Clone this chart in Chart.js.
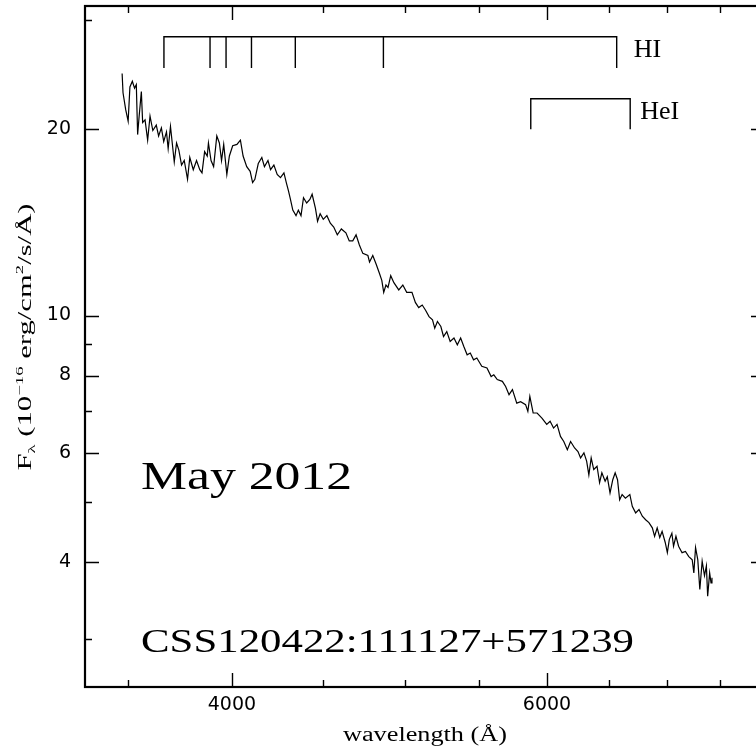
<!DOCTYPE html>
<html>
<head>
<meta charset="utf-8">
<script src="https://cdn.jsdelivr.net/npm/chart.js@4.4.1/dist/chart.umd.min.js"></script>
<style>
  html, body { margin: 0; padding: 0; background: #fff; overflow: hidden; }
  #wrap { position: absolute; left: 0; top: 0; width: 780px; height: 748px; }
</style>
</head>
<body>
<div id="wrap"><canvas id="spec" width="780" height="748"></canvas></div>
<script>
// Observed spectrum: wavelength (Angstrom) and flux (1e-16 erg/cm2/s/A)
const wavelength = [
  3473, 3477, 3489, 3500, 3508, 3519, 3529, 3537, 3543, 3550, 3560, 3566,
  3577, 3589, 3600, 3613, 3629, 3640, 3653, 3664, 3677, 3685, 3696, 3714,
  3725, 3736, 3749, 3762, 3778, 3789, 3806, 3822, 3838, 3849, 3862, 3875,
  3881, 3894, 3907, 3923, 3936, 3947, 3958, 3974, 3987, 4004, 4026, 4044,
  4058, 4077, 4095, 4108, 4120, 4138, 4157, 4171, 4190, 4204, 4222, 4240,
  4258, 4277, 4290, 4302, 4313, 4326, 4344, 4357, 4372, 4386, 4404, 4422,
  4435, 4454, 4466, 4481, 4499, 4520, 4540, 4560, 4581, 4605, 4632, 4652,
  4673, 4693, 4713, 4734, 4765, 4775, 4795, 4816, 4836, 4851, 4863, 4877,
  4890, 4907, 4927, 4958, 4984, 5009, 5043, 5065, 5087, 5110, 5132, 5155,
  5178, 5193, 5211, 5234, 5252, 5274, 5297, 5323, 5346, 5369, 5391, 5414,
  5436, 5459, 5482, 5517, 5554, 5584, 5603, 5628, 5665,
  5689, 5714, 5739, 5771, 5800, 5837, 5854, 5869, 5894, 5924, 5961, 5998,
  6024, 6051, 6078, 6105, 6131, 6159, 6185, 6217, 6244, 6265, 6292, 6314,
  6332, 6351, 6372, 6399, 6420, 6439, 6466, 6484, 6507, 6530, 6550, 6570,
  6588, 6609, 6637, 6675, 6696, 6725, 6754, 6783, 6812, 6841, 6871, 6891,
  6914, 6937, 6958, 6986, 7005, 7023, 7046, 7061, 7083, 7107, 7139, 7170,
  7201, 7233, 7248, 7264, 7285, 7304, 7326, 7348, 7366, 7378, 7397, 7410,
  7419
];
const flux = [
  24.6, 22.9, 21.5, 20.6, 23.4, 23.9, 23.3, 23.6, 19.6, 21.0, 23.0, 20.5,
  20.7, 19.2, 21.0, 19.9, 20.3, 19.5, 20.1, 19.1, 19.8, 18.6, 20.2, 17.7,
  19.0, 18.5, 17.5, 17.8, 16.6, 18.0, 17.2, 17.8, 17.2, 17.0, 18.4, 18.1,
  19.0, 17.8, 17.4, 19.5, 19.0, 17.8, 18.9, 16.9, 18.1, 18.8, 18.9, 19.2,
  18.1, 17.4, 17.1, 16.4, 16.6, 17.6, 18.0, 17.4, 17.8, 17.2, 17.5, 16.9,
  16.7, 17.0, 16.4, 15.9, 15.4, 14.8, 14.5, 14.8, 14.5, 15.5, 15.2, 15.4,
  15.7, 14.9, 14.2, 14.6, 14.3, 14.5, 14.1, 13.9, 13.5, 13.8, 13.6, 13.2,
  13.2, 13.5, 13.0, 12.6, 12.5, 12.2, 12.5, 12.1, 11.7, 11.4, 10.9, 11.2,
  11.1, 11.6, 11.3, 11.0, 11.2, 10.9, 10.9, 10.5, 10.3, 10.4, 10.2, 9.96,
  9.84, 9.54, 9.78, 9.60, 9.25, 9.42, 9.08, 9.20, 8.97, 9.20, 8.91, 8.64,
  8.70, 8.48, 8.54, 8.28, 8.23, 7.97, 8.02, 7.88, 7.83,
  7.68, 7.45, 7.59, 7.22, 7.26, 7.18, 7.00, 7.40, 6.96, 6.96, 6.83, 6.67,
  6.75, 6.58, 6.67, 6.38, 6.26, 6.07, 6.26, 6.11, 6.03, 5.89, 6.00, 5.82,
  5.53, 5.89, 5.64, 5.71, 5.37, 5.57, 5.40, 5.49, 5.17, 5.43, 5.57, 5.43,
  5.04, 5.14, 5.07, 5.14, 4.92, 4.80, 4.86, 4.74, 4.68, 4.63, 4.54, 4.40,
  4.54, 4.38, 4.48, 4.30, 4.14, 4.35, 4.45, 4.24, 4.40, 4.24, 4.14, 4.16,
  4.08, 4.03, 3.84, 4.22, 4.03, 3.61, 4.01, 3.80, 3.94, 3.52, 3.84, 3.70,
  3.77
];

// Line identifications (Angstrom) and the flux span of each marker bracket
const hiLines = [3665, 3889, 3970, 4102, 4340, 4861, 6563];
const hiSpan = [25.1, 28.2];
const heiLines = [5876, 6678];
const heiSpan = [20.0, 22.4];

// Axis limits and tick values
const xLimits = [3311, 7943];
const yLimits = [2.512, 31.62];
const xMajorTicks = [4000, 6000];
const xMinorTicks = [3500, 4500, 5000, 5500, 6500, 7000, 7500];
const yMajorTicks = [4, 6, 8, 10, 20];
const yMinorTicks = [3, 5, 7, 9, 30];

const SERIF = '"Liberation Serif", "Times New Roman", serif';
const SANS = '"DejaVu Sans", sans-serif';

function bracketPoints(lines, span) {
  const [lo, hi] = span;
  const first = lines[0], last = lines[lines.length - 1];
  const pts = [
    { x: first, y: lo }, { x: first, y: hi }, { x: last, y: hi }, { x: last, y: lo }, { x: last, y: null }
  ];
  lines.slice(1, -1).forEach(l => pts.push({ x: l, y: lo }, { x: l, y: hi }, { x: l, y: null }));
  return pts;
}

function drawStretched(ctx, text, x, y, font, width, align) {
  ctx.save();
  ctx.font = font;
  const w = ctx.measureText(text).width;
  const sx = width ? width / w : 1;
  ctx.translate(x, y);
  ctx.scale(sx, 1);
  ctx.textAlign = align || 'left';
  ctx.textBaseline = 'alphabetic';
  ctx.fillStyle = '#000';
  ctx.fillText(text, 0, 0);
  ctx.restore();
}

// Text made of runs with sub/superscripts, centred on (0,0) of the current transform
function drawRich(ctx, runs, size, length) {
  const small = Math.round(size * 0.62);
  const fontOf = r => `${r.s ? small : size}px ${SERIF}`;
  let total = 0;
  runs.forEach(r => { ctx.font = fontOf(r); r.w = ctx.measureText(r.t).width; total += r.w; });
  const sx = length / total;
  ctx.save();
  ctx.scale(sx, 1);
  let cx = -total / 2;
  const base = size * 0.33;
  ctx.fillStyle = '#000';
  ctx.textBaseline = 'alphabetic';
  ctx.textAlign = 'left';
  runs.forEach(r => {
    ctx.font = fontOf(r);
    const dy = r.s === 'sup' ? -size * 0.42 : r.s === 'sub' ? size * 0.22 : 0;
    ctx.fillText(r.t, cx, base + dy);
    cx += r.w;
  });
  ctx.restore();
}

const framePlugin = {
  id: 'frame',
  afterDatasetsDraw(chart) {
    const { ctx, chartArea: a, scales: { x, y } } = chart;
    ctx.save();
    ctx.strokeStyle = '#000';
    ctx.lineWidth = 1.4;
    ctx.beginPath();
    const xt = (vals, len) => vals.forEach(v => {
      const p = Math.round(x.getPixelForValue(v)) + 0.5;
      ctx.moveTo(p, a.bottom); ctx.lineTo(p, a.bottom - len);
      ctx.moveTo(p, a.top); ctx.lineTo(p, a.top + len);
    });
    const yt = (vals, len) => vals.forEach(v => {
      const p = Math.round(y.getPixelForValue(v)) + 0.5;
      ctx.moveTo(a.left, p); ctx.lineTo(a.left + len, p);
      ctx.moveTo(a.right, p); ctx.lineTo(a.right - len, p);
    });
    xt(xMajorTicks, 14); xt(xMinorTicks, 7);
    yt(yMajorTicks, 14); yt(yMinorTicks, 7);
    ctx.stroke();
    ctx.lineWidth = 2.2;
    ctx.strokeRect(a.left, a.top, a.right - a.left, a.bottom - a.top);
    ctx.restore();
  },
  afterDraw(chart) {
    const { ctx, scales: { x, y } } = chart;
    // line labels
    const hiX = x.getPixelForValue(hiLines[hiLines.length - 1]);
    const hiY = y.getPixelForValue(hiSpan[0]);
    drawStretched(ctx, 'HI', hiX + 17, hiY - 11, `26px ${SERIF}`);
    const heX = x.getPixelForValue(heiLines[heiLines.length - 1]);
    const heY = y.getPixelForValue(heiSpan[0]);
    drawStretched(ctx, 'HeI', heX + 10, heY - 10, `26px ${SERIF}`);
    // annotations
    drawStretched(ctx, 'May 2012', 141, 489, `40px ${SERIF}`, 211);
    drawStretched(ctx, 'CSS120422:111127+571239', 141, 652, `33px ${SERIF}`, 493);
    // axis titles
    const a = chart.chartArea;
    drawStretched(ctx, 'wavelength (\u00C5)', (a.left + a.right) / 2, 741, `20px ${SERIF}`, 164, 'center');
    ctx.save();
    ctx.translate(25, 337);
    ctx.rotate(-Math.PI / 2);
    drawRich(ctx, [
      { t: 'F' }, { t: '\u03BB', s: 'sub' }, { t: ' (10' }, { t: '\u221216', s: 'sup' },
      { t: ' erg/cm' }, { t: '2', s: 'sup' }, { t: '/s/\u00C5)' }
    ], 18, 267);
    ctx.restore();
  }
};

function noEdgePadding(s) {
  s.paddingTop = 0; s.paddingBottom = 0; s.paddingLeft = 0; s.paddingRight = 0;
}

new Chart(document.getElementById('spec'), {
  type: 'line',
  data: {
    datasets: [
      {
        data: wavelength.map((w, i) => ({ x: w, y: flux[i] })),
        borderColor: '#000', borderWidth: 1.2, pointRadius: 0, tension: 0
      },
      {
        data: bracketPoints(hiLines, hiSpan),
        borderColor: '#000', borderWidth: 1.4, pointRadius: 0, tension: 0, spanGaps: false
      },
      {
        data: bracketPoints(heiLines, heiSpan),
        borderColor: '#000', borderWidth: 1.4, pointRadius: 0, tension: 0, spanGaps: false
      }
    ]
  },
  options: {
    responsive: false,
    animation: false,
    devicePixelRatio: 1,
    layout: { padding: { top: 6, right: 15, left: 0, bottom: 0 } },
    plugins: { legend: { display: false }, tooltip: { enabled: false } },
    scales: {
      x: {
        type: 'logarithmic',
        min: xLimits[0], max: xLimits[1],
        grid: { display: false, drawTicks: false },
        border: { display: false },
        afterBuildTicks: s => { s.ticks = xMajorTicks.concat(xMinorTicks).map(v => ({ value: v })); },
        afterFit: s => { s.height = 61; noEdgePadding(s); },
        ticks: {
          autoSkip: false, maxRotation: 0, minRotation: 0, padding: 7, color: '#000',
          font: { family: SANS, size: 19 },
          callback: v => xMajorTicks.includes(v) ? String(v) : ''
        }
      },
      y: {
        type: 'logarithmic',
        min: yLimits[0], max: yLimits[1],
        grid: { display: false, drawTicks: false },
        border: { display: false },
        afterBuildTicks: s => { s.ticks = yMajorTicks.concat(yMinorTicks).map(v => ({ value: v })); },
        afterFit: s => { s.width = 85; noEdgePadding(s); },
        ticks: {
          autoSkip: false, padding: 14, color: '#000',
          font: { family: SANS, size: 19 },
          callback: v => yMajorTicks.includes(v) ? String(v) : ''
        }
      }
    }
  },
  plugins: [framePlugin]
});
</script>
</body>
</html>
